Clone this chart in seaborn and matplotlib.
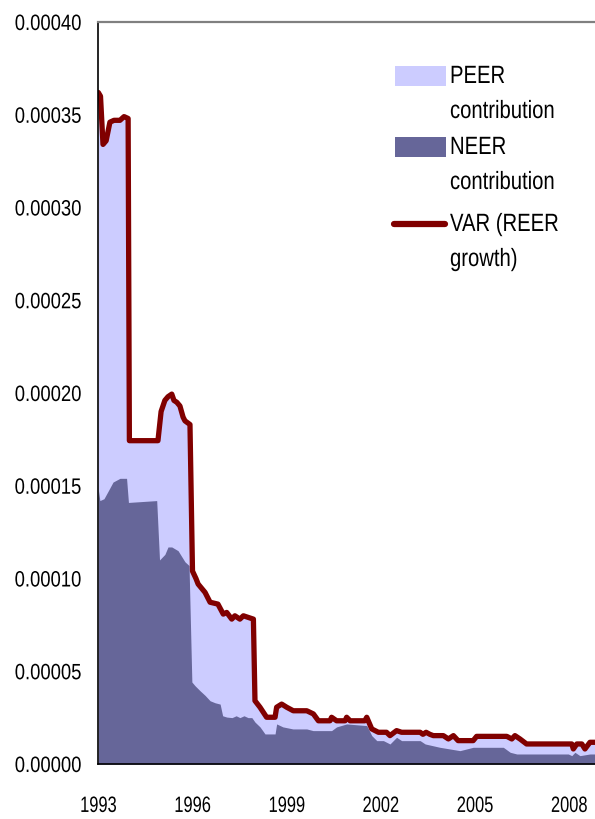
import numpy as np
import pandas as pd
import matplotlib
matplotlib.use("Agg")
import matplotlib.pyplot as plt
from matplotlib.patches import Rectangle
from matplotlib.lines import Line2D
from matplotlib.patheffects import AbstractPathEffect
from matplotlib.transforms import Affine2D
import seaborn as sns

# ---- data (decimal years) ----
var_x = [1993.00, 1993.07, 1993.15, 1993.25, 1993.37, 1993.50, 1993.69, 1993.82, 1993.95, 1993.99,
         1994.90, 1995.00, 1995.12, 1995.22, 1995.34, 1995.41, 1995.50, 1995.60, 1995.70, 1995.76,
         1995.92, 1996.00, 1996.11, 1996.18, 1996.40, 1996.56, 1996.81, 1996.98, 1997.09, 1997.25,
         1997.35, 1997.51, 1997.62, 1997.78, 1997.94, 1997.99, 1998.15, 1998.36, 1998.63, 1998.68,
         1998.84, 1999.00, 1999.21, 1999.64, 1999.85, 2000.01, 2000.38, 2000.43, 2000.59, 2000.86,
         2000.91, 2001.02, 2001.49, 2001.55, 2001.71, 2001.92, 2002.18, 2002.29, 2002.50, 2002.66,
         2003.25, 2003.34, 2003.44, 2003.56, 2003.67, 2003.99, 2004.15, 2004.31, 2004.46, 2004.94,
         2005.05, 2006.01, 2006.17, 2006.27, 2006.43, 2006.64, 2008.08, 2008.13, 2008.24, 2008.40,
         2008.50, 2008.66, 2008.82]
var_total = [0.000362, 0.000360, 0.000334, 0.000336, 0.000346, 0.000347, 0.000347, 0.000349, 0.000348, 0.0001743,
             0.0001743, 0.000190, 0.000196, 0.000198, 0.0001994, 0.000196, 0.000195, 0.000193, 0.000187, 0.000185,
             0.000183, 0.000104, 0.000100, 0.000097, 0.0000925, 0.0000872, 0.0000862, 0.0000808, 0.0000817, 0.0000781,
             0.0000799, 0.0000781, 0.0000799, 0.0000790, 0.0000781, 0.0000341, 0.0000306, 0.0000252, 0.0000252, 0.0000306,
             0.0000323, 0.0000306, 0.0000287, 0.0000287, 0.0000270, 0.0000233, 0.0000233, 0.0000252, 0.0000233, 0.0000233,
             0.0000252, 0.0000233, 0.0000233, 0.0000252, 0.0000189, 0.0000171, 0.0000171, 0.0000153, 0.0000180, 0.0000171,
             0.0000171, 0.0000160, 0.0000171, 0.0000160, 0.0000153, 0.0000153, 0.0000135, 0.0000153, 0.0000126, 0.0000126,
             0.0000149, 0.0000149, 0.0000135, 0.0000153, 0.0000135, 0.0000108, 0.0000108, 0.0000081, 0.0000108, 0.0000108,
             0.0000081, 0.0000117, 0.0000117]

neer_x = [1993.00, 1993.05, 1993.18, 1993.31, 1993.47, 1993.69, 1993.90, 1993.96, 1994.86, 1994.95,
          1995.12, 1995.22, 1995.34, 1995.44, 1995.54, 1995.76, 1995.89, 1995.98, 1996.08, 1996.24,
          1996.40, 1996.56, 1996.72, 1996.88, 1996.96, 1997.09, 1997.26, 1997.39, 1997.51, 1997.64,
          1997.77, 1997.89, 1997.99, 1998.15, 1998.31, 1998.63, 1998.68, 1998.88, 1999.20, 1999.64,
          1999.84, 2000.43, 2000.59, 2000.91, 2001.55, 2001.71, 2001.87, 2002.08, 2002.29, 2002.50,
          2002.66, 2003.25, 2003.41, 2003.88, 2004.52, 2004.94, 2005.90, 2006.12, 2006.33, 2007.97,
          2008.08, 2008.18, 2008.34, 2008.66, 2008.82]
neer_contrib = [0.000148, 0.000142, 0.000143, 0.000147, 0.000152, 0.000154, 0.000154, 0.000141, 0.000142, 0.000110,
                0.000113, 0.000117, 0.000117, 0.000116, 0.000115, 0.000109, 0.000107, 0.0000442, 0.0000422, 0.0000395,
                0.0000370, 0.0000341, 0.0000330, 0.0000323, 0.0000260, 0.0000253, 0.0000250, 0.0000260, 0.0000250, 0.0000260,
                0.0000250, 0.0000250, 0.0000226, 0.0000200, 0.0000162, 0.0000162, 0.0000216, 0.0000200, 0.0000189, 0.0000189,
                0.0000180, 0.0000180, 0.0000200, 0.0000216, 0.0000207, 0.0000153, 0.0000126, 0.0000126, 0.0000108, 0.0000144,
                0.0000126, 0.0000126, 0.0000108, 0.0000090, 0.0000072, 0.0000090, 0.0000090, 0.0000063, 0.0000054, 0.0000054,
                0.0000045, 0.0000063, 0.0000045, 0.0000054, 0.0000054]

year_ticks = list(range(1993, 2009))
year_labels = ["1993", "1996", "1999", "2002", "2005", "2008"]
y_ticks = [0.0, 0.00005, 0.0001, 0.00015, 0.0002, 0.00025, 0.0003, 0.00035, 0.0004]
legend_labels = [["PEER", "contribution"], ["NEER", "contribution"], ["VAR (REER", "growth)"]]

PEER_C = "#CCCCFF"
NEER_C = "#666699"
VAR_C = "#800000"


class HScale(AbstractPathEffect):
    """Horizontally condense glyphs (the reference uses a condensed sans face)."""

    def __init__(self, sx, anchor="left"):
        super().__init__()
        self.sx = sx
        self.anchor = anchor

    def draw_path(self, renderer, gc, tpath, affine, rgbFace=None):
        ext = tpath.get_extents()
        if self.anchor == "center":
            cx = (ext.x0 + ext.x1) / 2
        elif self.anchor == "right":
            cx = ext.x1
        else:
            cx = 0.0
        t = Affine2D().translate(-cx, 0).scale(self.sx, 1).translate(cx, 0) + affine
        renderer.draw_path(gc, tpath, t, rgbFace)


sns.set_style("white")
plt.rcParams["font.family"] = ["Liberation Sans", "DejaVu Sans"]

W, H = 595, 820
fig = plt.figure(figsize=(W / 100, H / 100), dpi=100)
x0, x1, ytop, ybot = 98.3, 595, 23, 765
ax = fig.add_axes([x0 / W, 1 - ybot / H, (x1 - x0) / W, (ybot - ytop) / H])

var_df = pd.DataFrame({"year": var_x, "value": var_total})
neer_df = pd.DataFrame({"year": neer_x, "value": neer_contrib})

# PEER contribution stacks on NEER up to the VAR total
ax.fill_between(var_df["year"], 0, var_df["value"], color=PEER_C, linewidth=0, zorder=1)
ax.fill_between(neer_df["year"], 0, neer_df["value"], color=NEER_C, linewidth=0, zorder=2)
sns.lineplot(data=var_df, x="year", y="value", color=VAR_C, linewidth=3.8,
             estimator=None, sort=False, ax=ax, zorder=3, legend=False)

ax.set_xlim(1993, 2008.82)
ax.set_ylim(0, 0.0004)
ax.set_xticks(year_ticks)
ax.set_xticklabels([str(y) if str(y) in year_labels else "" for y in year_ticks])
ax.set_yticks(y_ticks)
ax.set_yticklabels([f"{v:.5f}" for v in y_ticks])
ax.set_xlabel("")
ax.set_ylabel("")

FS_TICK = 16
FS_LEG = 18
ax.tick_params(axis="x", direction="in", length=8, width=1, color="black",
               pad=23, labelsize=FS_TICK, labelcolor="black")
ax.tick_params(axis="y", direction="in", length=4, width=1, color="black",
               pad=12, labelsize=FS_TICK, labelcolor="black")
ax.tick_params(axis="x", which="both", top=False)
for lab in ax.get_xticklabels():
    lab.set_path_effects([HScale(0.74, "center")])
for lab in ax.get_yticklabels():
    lab.set_path_effects([HScale(0.83, "right")])

ax.spines["left"].set_color("black")
ax.spines["left"].set_linewidth(1.2)
ax.spines["bottom"].set_color("black")
ax.spines["bottom"].set_linewidth(1.2)
ax.spines["top"].set_color("#808080")
ax.spines["top"].set_linewidth(1.6)
ax.spines["right"].set_visible(False)
for s in ax.spines.values():
    s.set_zorder(5)

# ---- manual legend (figure pixel coordinates) ----
def fx(px):
    return px / W


def fy(py):
    return 1 - py / H


entries = [("patch", PEER_C, 77), ("patch", NEER_C, 148), ("line", VAR_C, 225)]
for (kind, col, yc), lines in zip(entries, legend_labels):
    if kind == "patch":
        fig.patches.append(Rectangle((fx(395), fy(yc + 10)), fx(446) - fx(395), 20 / H,
                                     transform=fig.transFigure, facecolor=col, edgecolor="none"))
    else:
        fig.lines.append(Line2D([fx(394), fx(445)], [fy(yc), fy(yc)], transform=fig.transFigure,
                                color=col, linewidth=4.5, solid_capstyle="round"))
    for k, line in enumerate(lines):
        t = fig.text(fx(450), fy(yc + 35 * k), line, fontsize=FS_LEG, va="center", ha="left", color="black")
        t.set_path_effects([HScale(0.81, "left")])

fig.savefig("out.png", dpi=100)
